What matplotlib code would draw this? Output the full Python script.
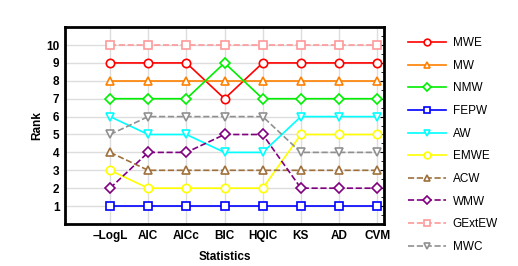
import matplotlib
matplotlib.use("Agg")
import matplotlib.pyplot as plt
from matplotlib.ticker import MultipleLocator

plt.rcParams['font.family'] = ['Liberation Sans', 'DejaVu Sans']

stats = ["\u2013LogL", "AIC", "AICc", "BIC", "HQIC", "KS", "AD", "CVM"]

mwe = [9, 9, 9, 7, 9, 9, 9, 9]
mw = [8, 8, 8, 8, 8, 8, 8, 8]
nmw = [7, 7, 7, 9, 7, 7, 7, 7]
fepw = [1, 1, 1, 1, 1, 1, 1, 1]
aw = [6, 5, 5, 4, 4, 6, 6, 6]
emwe = [3, 2, 2, 2, 2, 5, 5, 5]
acw = [4, 3, 3, 3, 3, 3, 3, 3]
wmw = [2, 4, 4, 5, 5, 2, 2, 2]
gextew = [10, 10, 10, 10, 10, 10, 10, 10]
mwc = [5, 6, 6, 6, 6, 4, 4, 4]

series = [
    ("MWE", mwe, "#ff0000", "o", "-"),
    ("MW", mw, "#ff8000", "^", "-"),
    ("NMW", nmw, "#00ee00", "D", "-"),
    ("FEPW", fepw, "#0000ff", "s", "-"),
    ("AW", aw, "#00ffff", "v", "-"),
    ("EMWE", emwe, "#ffff00", "o", "-"),
    ("ACW", acw, "#a0703c", "^", "--"),
    ("WMW", wmw, "#800080", "D", "--"),
    ("GExtEW", gextew, "#ff9999", "s", "--"),
    ("MWC", mwc, "#909090", "v", "--"),
]

fig = plt.figure(figsize=(5.18, 2.66), dpi=100)
ax = fig.add_axes([0.1255, 0.158, 0.616, 0.74])

x = list(range(len(stats)))
for name, vals, col, mk, ls in series:
    ms = 5 if mk == "D" else 6
    ax.plot(x, vals, color=col, marker=mk, linestyle=ls, linewidth=1.2,
            markersize=ms, markerfacecolor="white", markeredgecolor=col,
            markeredgewidth=1.2, label=name)

ax.set_xlim(-1.18, 7.18)
ax.set_ylim(0, 11)
ax.set_xticks(x)
ax.set_xticklabels(stats, fontweight="bold", fontsize=8.5)
ax.set_yticks(range(1, 11))
ax.set_yticklabels([str(i) for i in range(1, 11)], fontweight="bold", fontsize=8.5)
ax.grid(True, color="#dddddd", linewidth=1)
ax.set_axisbelow(True)
ax.tick_params(axis="both", length=0, pad=4)
ax.tick_params(axis="y", which="both", right=True, direction="in", length=3)
ax.yaxis.set_minor_locator(MultipleLocator(0.5))
ax.tick_params(axis="y", which="minor", left=False, right=True, length=2)
ax.tick_params(axis="y", which="major", left=False)
for s in ax.spines.values():
    s.set_linewidth(2)
ax.set_xlabel("Statistics", fontweight="bold", fontsize=8.5, labelpad=7)
ax.set_ylabel("Rank", fontweight="bold", fontsize=8.5, labelpad=2)

fig.legend(loc="upper left", bbox_to_anchor=(0.767, 0.9), frameon=False,
           fontsize=8.5, handlelength=3.2, labelspacing=0.9, handletextpad=0.6,
           markerscale=0.8)

fig.savefig("out.png", dpi=100)
